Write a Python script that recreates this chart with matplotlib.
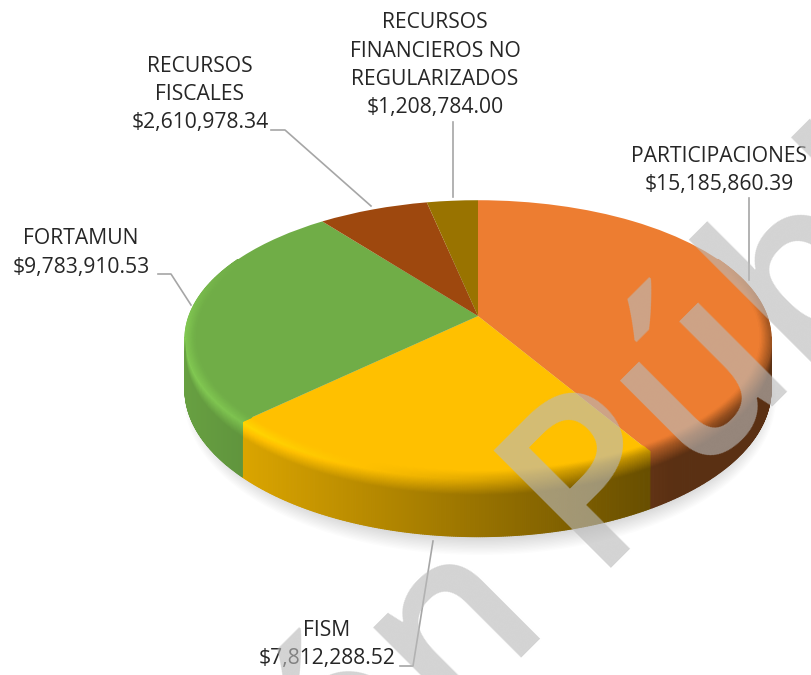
import numpy as np
import matplotlib
matplotlib.use("Agg")
import matplotlib.pyplot as plt
from matplotlib.collections import PolyCollection
from matplotlib.patches import Ellipse
from matplotlib.transforms import Transform

# datos
nombres = [["PARTICIPACIONES"], ["FISM"], ["FORTAMUN"], ["RECURSOS", "FISCALES"],
           ["RECURSOS", "FINANCIEROS NO", "REGULARIZADOS"]]
valores = [15185860.39, 7812288.52, 9783910.53, 2610978.34, 1208784.00]
colores = ["#ED7D31", "#FFC000", "#70AD47", "#9E480E", "#997300"]

# geometria en pixeles
CX, CY = 478, 316
A, B, K = 289, 135, 0.166
D0 = 49


class Perspectiva(Transform):
    input_dims = output_dims = 2

    def transform_non_affine(self, xy):
        xy = np.asarray(xy, dtype=float)
        w = 1 + K * xy[:, 1]
        return np.column_stack([CX + A * xy[:, 0] / w, CY - B * xy[:, 1] / w])


def borde(theta, t):
    # t<0: hacia dentro de la cara superior, t>0: hacia abajo por la pared
    r = 1 + min(t, 0) * 0.22
    x, y = r * np.sin(theta), r * np.cos(theta)
    w = 1 + K * y
    return CX + A * x / w, CY - B * y / w + max(t, 0) * D0 / w


def factor_pared(s):
    return np.clip(0.92 - 0.65 * s, 0.38, 1)


def factor_bisel(s):
    return np.clip(1.18 - 0.6 * s, 0.62, 1.18)


fig = plt.figure(figsize=(8.12, 6.75), dpi=100)
ax = fig.add_axes([0, 0, 1, 1])
plt.rcParams['font.family'] = ['Open Sans', 'DejaVu Sans']

wedges, _ = ax.pie(valores, colors=colores, startangle=90, counterclock=False, radius=1)
persp = Perspectiva()
for w in wedges:
    w.set_transform(persp + ax.transData)
    w.set_zorder(3)
    w.set_linewidth(0)
ax.set_aspect('auto')
ax.set_xlim(0, 812)
ax.set_ylim(675, 0)
ax.axis('off')

# sombra
for i in range(14):
    ax.add_patch(Ellipse((480, 398), 2 * (296 - i * 1.2), 2 * (157 - i * 1.4), color="#000000",
                         alpha=0.013, lw=0, zorder=1))

# pared lateral y bisel
fracc = np.cumsum([0] + valores) / sum(valores) * 2 * np.pi
niveles = list(np.arange(-0.16, 0.32, 0.02)) + [0.32, 1.0]
quads, caras = [], []
for i, col in enumerate(colores):
    base = np.array(matplotlib.colors.to_rgb(col))
    th = np.arange(fracc[i], fracc[i + 1] + 0.006, 0.006)
    th = np.minimum(th, fracc[i + 1])
    for a, b in zip(th[:-1], th[1:]):
        tc = (a + b) / 2
        if np.cos(tc) > 0.45:
            continue
        xm, _y = borde(tc, 0)
        s = (xm - 187) / 586
        fade = np.clip((0.45 - np.cos(tc)) / 0.5, 0, 1)
        for t0, t1 in zip(niveles[:-1], niveles[1:]):
            tm = (t0 + t1) / 2
            if tm > 0 and np.cos(tc) > -0.15:
                continue
            if tm < 0.03:
                f = 1 + (factor_bisel(s) - 1) * fade * (tm + 0.16) / 0.19
            elif tm < 0.3:
                f = factor_bisel(s) + (factor_pared(s) - factor_bisel(s)) * (tm - 0.03) / 0.27
            else:
                f = factor_pared(s)
            xa0, ya0 = borde(a, t0)
            xb0, yb0 = borde(b, t0)
            xb1, yb1 = borde(b, t1)
            xa1, ya1 = borde(a, t1)
            quads.append([(xa0, ya0), (xb0, yb0), (xb1, yb1), (xa1, ya1)])
            caras.append(tuple(np.clip(base * f, 0, 1)))
ax.add_collection(PolyCollection(quads, facecolors=caras, edgecolors=caras, linewidths=0.8, zorder=4))

# lineas guia
guias = [
    [(749, 198), (749, 280)],
    [(400, 666), (413, 666), (433, 541)],
    [(158, 274), (171, 274), (191, 305)],
    [(271, 130), (285, 130), (371, 206)],
    [(453, 122), (453, 197)],
]
for g in guias:
    ax.plot(*zip(*g), color="#a6a6a6", lw=1.2, zorder=5)

# etiquetas
centros_x = [719, 327, 81, 200, 435]
y_inicial = [156, 630, 239, 66, 23]
for nom, v, x, y in zip(nombres, valores, centros_x, y_inicial):
    lineas = nom + [f"${v:,.2f}"]
    for j, linea in enumerate(lineas):
        ax.text(x, y + j * 28.3, linea, ha="center", va="center", fontsize=15.2, color="#262626", zorder=6)

# marca de agua
ax.text(565, 614, "Versión Pública", rotation=45, rotation_mode="anchor", ha="center", va="baseline",
        fontsize=167, fontweight="semibold", color="#bababa", alpha=0.63, zorder=10, clip_on=True)

fig.savefig("out.png", dpi=100)
